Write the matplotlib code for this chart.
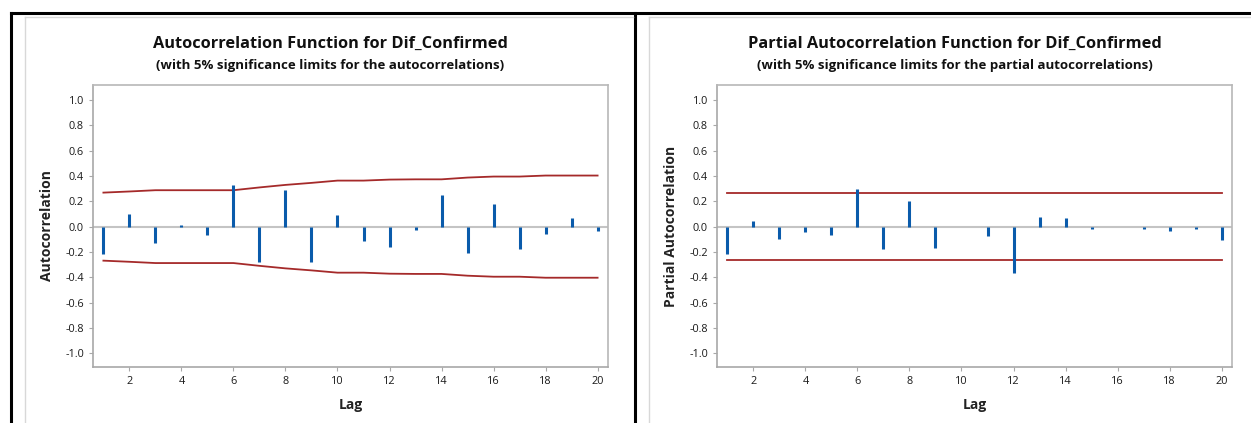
import numpy as np
import matplotlib
matplotlib.use("Agg")
import matplotlib.pyplot as plt
from matplotlib.lines import Line2D

plt.rcParams['font.family'] = ['Open Sans', 'DejaVu Sans']
plt.rcParams['axes.unicode_minus'] = False

lags = list(range(1, 21))

acf = [-0.22, 0.10, -0.127, 0.013, -0.069, 0.327, -0.28, 0.293, -0.28, 0.092,
       -0.113, -0.158, -0.026, 0.25, -0.211, 0.177, -0.179, -0.058, 0.069, -0.034]
acf_limit = [0.269, 0.278, 0.288, 0.288, 0.288, 0.288, 0.31, 0.33, 0.346, 0.364,
             0.364, 0.372, 0.374, 0.374, 0.388, 0.396, 0.396, 0.404, 0.404, 0.404]

pacf = [-0.22, 0.047, -0.10, -0.042, -0.069, 0.30, -0.177, 0.20, -0.169, 0.0,
        -0.077, -0.37, 0.077, 0.066, -0.016, 0.0, -0.016, -0.034, -0.016, -0.103]
pacf_limit = 0.267

ytick_vals = [-1.0, -0.8, -0.6, -0.4, -0.2, 0.0, 0.2, 0.4, 0.6, 0.8, 1.0]
ytick_labels = ['-1.0', '-0.8', '-0.6', '-0.4', '-0.2', '0.0', '0.2', '0.4', '0.6', '0.8', '1.0']

bar_col = '#0a5bab'
lim_col = '#a52a2a'
grey = '#a8a8a8'

fig = plt.figure(figsize=(12.51, 4.23), dpi=100)

# panel frames
fig.add_artist(Line2D([11/1251, 11/1251], [0, 1 - 13/423], color='black', lw=2.2))
fig.add_artist(Line2D([11/1251, 1.0], [1 - 13/423, 1 - 13/423], color='black', lw=2.2))
fig.add_artist(Line2D([635/1251, 635/1251], [0, 1 - 13/423], color='black', lw=2.2))
fig.add_artist(Line2D([25/1251, 25/1251], [0, 1 - 17/423], color='#d8d8d8', lw=1))
fig.add_artist(Line2D([25/1251, 633/1251], [1 - 17/423, 1 - 17/423], color='#d8d8d8', lw=1))
fig.add_artist(Line2D([649/1251, 649/1251], [0, 1 - 17/423], color='#d8d8d8', lw=1))
fig.add_artist(Line2D([649/1251, 1.0], [1 - 17/423, 1 - 17/423], color='#d8d8d8', lw=1))

ax1 = fig.add_axes([93/1251, 1 - 367/423, (608 - 93)/1251, (367 - 85)/423])
ax2 = fig.add_axes([717/1251, 1 - 367/423, (1232 - 717)/1251, (367 - 85)/423])


def style(ax, ylabel):
    ax.set_xlim(0.6, 20.4)
    ax.set_ylim(-1.11, 1.12)
    ax.axhline(0, color='#c4c4c4', lw=1.5, zorder=1)
    ax.set_xticks(range(2, 21, 2))
    ax.set_yticks(ytick_vals)
    ax.set_yticklabels(ytick_labels)
    for s in ax.spines.values():
        s.set_color(grey)
        s.set_linewidth(1.2)
    ax.spines['top'].set_color('#b8b8b8')
    ax.spines['right'].set_color('#b8b8b8')
    ax.tick_params(axis='both', colors=grey, labelcolor='#1a1a1a', labelsize=7.8,
                   length=3, width=0.8)
    ax.set_xlabel('Lag', fontsize=10, fontweight='bold', color='#222222', labelpad=8)
    ax.set_ylabel(ylabel, fontsize=10, fontweight='bold', color='#222222', labelpad=8)


ax1.vlines(lags, 0, acf, color=bar_col, lw=2.2, zorder=3)
ax1.plot(lags, acf_limit, color=lim_col, lw=1.3, zorder=2)
ax1.plot(lags, [-v for v in acf_limit], color=lim_col, lw=1.3, zorder=2)
style(ax1, 'Autocorrelation')

ax2.vlines(lags, 0, pacf, color=bar_col, lw=2.2, zorder=3)
ax2.plot([1, 20], [pacf_limit, pacf_limit], color=lim_col, lw=1.3, zorder=2)
ax2.plot([1, 20], [-pacf_limit, -pacf_limit], color=lim_col, lw=1.3, zorder=2)
style(ax2, 'Partial Autocorrelation')

fig.text(330/1251, 1 - 44/423, 'Autocorrelation Function for Dif_Confirmed',
         ha='center', va='center', fontsize=11.8, fontweight='bold', color='#111111')
fig.text(330/1251, 1 - 65/423, '(with 5% significance limits for the autocorrelations)',
         ha='center', va='center', fontsize=9.5, fontweight='bold', color='#111111')
fig.text(955/1251, 1 - 44/423, 'Partial Autocorrelation Function for Dif_Confirmed',
         ha='center', va='center', fontsize=11.8, fontweight='bold', color='#111111')
fig.text(955/1251, 1 - 65/423, '(with 5% significance limits for the partial autocorrelations)',
         ha='center', va='center', fontsize=9.5, fontweight='bold', color='#111111')

fig.savefig('out.png', dpi=100)
